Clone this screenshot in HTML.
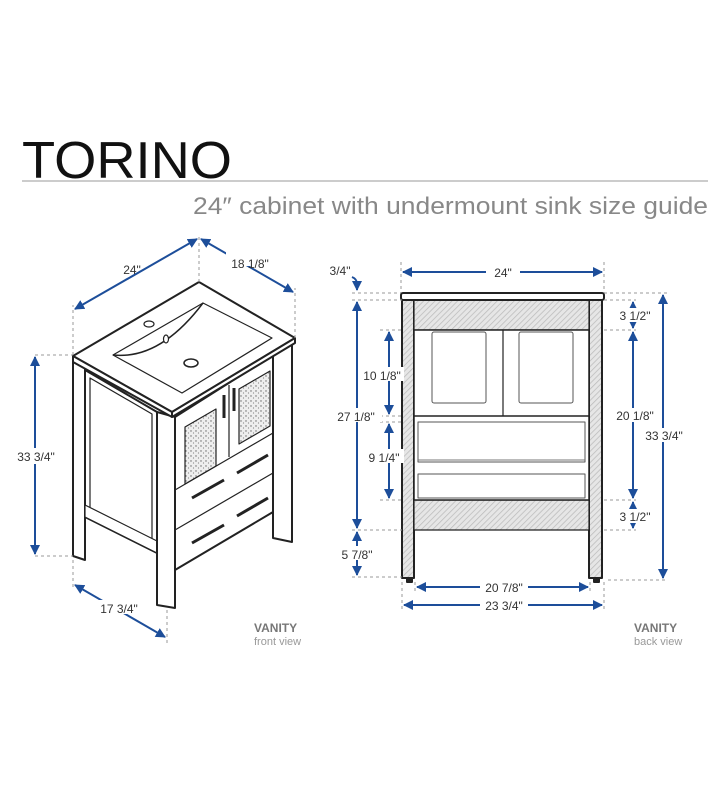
<!DOCTYPE html>
<html><head><meta charset="utf-8"><style>html,body{margin:0;padding:0;background:#fff}svg{display:block}</style></head><body>
<svg width="728" height="789" viewBox="0 0 728 789" xmlns="http://www.w3.org/2000/svg" font-family="Liberation Sans, sans-serif">
<defs>
<marker id="a" viewBox="0 0 10 10" refX="9" refY="5" markerWidth="5" markerHeight="5" orient="auto-start-reverse"><path d="M0,0L10,5L0,10z" fill="#1d4e9a"/></marker>
<pattern id="h" width="4" height="4" patternUnits="userSpaceOnUse" patternTransform="rotate(45)"><rect width="4" height="4" fill="#e6e6e6"/><line x1="0" y1="0" x2="0" y2="4" stroke="#bbb" stroke-width="1.5"/></pattern>
<pattern id="sp" width="5" height="5" patternUnits="userSpaceOnUse"><rect width="5" height="5" fill="#eee"/><circle cx="1" cy="1" r="0.7" fill="#666"/><circle cx="3.5" cy="3" r="0.6" fill="#888"/></pattern>
</defs>
<text x="22" y="178" font-size="52" textLength="210" lengthAdjust="spacingAndGlyphs" fill="#111" font-weight="300">TORINO</text>
<line x1="22" y1="181" x2="708" y2="181" stroke="#ccc" stroke-width="2"/>
<text x="193" y="214" font-size="24" textLength="515" lengthAdjust="spacingAndGlyphs" fill="#888">24″ cabinet with undermount sink size guide</text>

<g stroke="#222" stroke-width="2" fill="#fff" stroke-linejoin="round">
<!-- left iso -->
<polygon points="273,343 292,343 292,542 273,538"/>
<polygon points="73,362 85,362 85,560 73,556"/>
<polygon points="85,370 157,412 157,553 85,517"/>
<polygon points="90,378 152,414 152,540 90,508" fill="#fff" stroke-width="1.2"/>
<polygon points="85,505 157,541 157,553 85,517" stroke-width="1.2"/>
<polygon points="157,412 175,417 175,608 157,605"/>
<polygon points="175,417 273,355 273,512 175,570"/>
<line x1="175" y1="490" x2="273" y2="433" stroke-width="1.2"/>
<line x1="175" y1="530" x2="273" y2="473" stroke-width="1.2"/>
<line x1="229" y1="457" x2="229" y2="385" stroke-width="1.2"/>
<polygon points="185,427 216,409 216,466 185,484" fill="url(#sp)" stroke-width="1.2"/>
<polygon points="239,389 270,371 270,426 239,444" fill="url(#sp)" stroke-width="1.2"/>
<line x1="224" y1="395" x2="224" y2="418" stroke-width="3"/>
<line x1="234" y1="388" x2="234" y2="411" stroke-width="3"/>
<line x1="192" y1="498" x2="224" y2="480" stroke-width="3"/>
<line x1="237" y1="473" x2="268" y2="455" stroke-width="3"/>
<line x1="192" y1="543" x2="224" y2="525" stroke-width="3"/>
<line x1="237" y1="516" x2="268" y2="498" stroke-width="3"/>
<polygon points="73,356 199,282 295,338 172,412"/>
<polygon points="73,356 172,412 172,417 73,362"/>
<polygon points="172,412 295,338 295,343 172,417"/>
<path d="M113,355 L203,303 L272,338 L182,393 Z" stroke-width="1.2" fill="#fff"/>
<path d="M113,355 Q160,360 203,303" stroke-width="1.5" fill="none"/>
<ellipse cx="149" cy="324" rx="5" ry="3" stroke-width="1.2"/>
<ellipse cx="166" cy="339" rx="2.5" ry="4" stroke-width="1.2"/>
<ellipse cx="191" cy="363" rx="7" ry="4" stroke-width="1.5"/>

<!-- right back view -->
<rect x="402" y="300" width="12" height="278" fill="url(#h)"/>
<rect x="589" y="300" width="13" height="278" fill="url(#h)"/>
<rect x="407" y="578" width="5" height="4" fill="#222"/>
<rect x="594" y="578" width="5" height="4" fill="#222"/>
<rect x="414" y="300" width="175" height="30" fill="url(#h)" stroke-width="1.2"/>
<rect x="414" y="500" width="175" height="30" fill="url(#h)" stroke-width="1.2"/>
<rect x="414" y="330" width="175" height="170" stroke-width="1.5"/>
<line x1="503" y1="330" x2="503" y2="416" stroke-width="1.2"/>
<line x1="414" y1="416" x2="589" y2="416" stroke-width="1.5"/>
<rect x="432" y="332" width="54" height="71" rx="2" stroke-width="1" stroke="#555"/>
<rect x="519" y="332" width="54" height="71" rx="2" stroke-width="1" stroke="#555"/>
<rect x="418" y="422" width="167" height="40" stroke-width="1" stroke="#555"/>
<line x1="418" y1="460" x2="585" y2="460" stroke-width="1" stroke="#777"/>
<rect x="418" y="474" width="167" height="24" stroke-width="1" stroke="#555"/>
<rect x="401" y="293" width="203" height="7" rx="2"/>
</g>

<g stroke="#999" stroke-width="1" stroke-dasharray="3,3" fill="none">
<line x1="73" y1="355" x2="73" y2="305"/><line x1="199" y1="282" x2="199" y2="234"/><line x1="295" y1="338" x2="295" y2="288"/>
<line x1="35" y1="355" x2="73" y2="355"/><line x1="35" y1="556" x2="73" y2="556"/>
<line x1="73" y1="560" x2="73" y2="590"/><line x1="167" y1="610" x2="167" y2="645"/>
<line x1="401" y1="262" x2="401" y2="293"/><line x1="604" y1="262" x2="604" y2="293"/>
<line x1="352" y1="293" x2="401" y2="293"/><line x1="352" y1="300" x2="402" y2="300"/>
<line x1="352" y1="530" x2="402" y2="530"/><line x1="352" y1="577" x2="402" y2="577"/>
<line x1="380" y1="330" x2="402" y2="330"/><line x1="380" y1="416" x2="402" y2="416"/>
<line x1="380" y1="422" x2="402" y2="422"/><line x1="380" y1="500" x2="402" y2="500"/>
<line x1="604" y1="293" x2="667" y2="293"/><line x1="604" y1="300" x2="636" y2="300"/>
<line x1="604" y1="330" x2="636" y2="330"/><line x1="604" y1="500" x2="636" y2="500"/>
<line x1="604" y1="530" x2="636" y2="530"/><line x1="608" y1="580" x2="667" y2="580"/>
<line x1="402" y1="582" x2="402" y2="610"/><line x1="604" y1="582" x2="604" y2="610"/>
<line x1="415" y1="582" x2="415" y2="592"/><line x1="590" y1="582" x2="590" y2="592"/>
</g>

<g stroke="#1d4e9a" stroke-width="2" fill="none" marker-start="url(#a)" marker-end="url(#a)">
<line x1="75" y1="309" x2="197" y2="239"/>
<line x1="201" y1="239" x2="293" y2="292"/>
<line x1="35" y1="357" x2="35" y2="554"/>
<line x1="75" y1="585" x2="165" y2="637"/>
<line x1="403" y1="272" x2="602" y2="272"/>
<line x1="357" y1="302" x2="357" y2="528"/>
<line x1="357" y1="532" x2="357" y2="575"/>
<line x1="389" y1="332" x2="389" y2="414"/>
<line x1="389" y1="424" x2="389" y2="498"/>
<line x1="633" y1="302" x2="633" y2="328"/>
<line x1="633" y1="332" x2="633" y2="498"/>
<line x1="633" y1="502" x2="633" y2="528"/>
<line x1="663" y1="295" x2="663" y2="578"/>
<line x1="417" y1="587" x2="588" y2="587"/>
<line x1="404" y1="605" x2="602" y2="605"/>
</g>
<path d="M352,277 Q357,279 357,284 L357,290" stroke="#1d4e9a" stroke-width="2" fill="none" marker-end="url(#a)"/>

<g font-size="12" fill="#333" text-anchor="middle">
<rect x="100" y="258" width="32" height="14" fill="#fff" transform="rotate(-30 116 265)"/>
<text x="132" y="274">24"</text>
<rect x="226" y="252" width="48" height="14" fill="#fff"/>
<text x="250" y="268">18 1/8"</text>
<rect x="10" y="448" width="52" height="16" fill="#fff"/>
<text x="36" y="461">33 3/4"</text>
<rect x="95" y="600" width="48" height="14" fill="#fff"/>
<text x="119" y="613">17 3/4"</text>
<text x="340" y="275">3/4"</text>
<rect x="486" y="264" width="34" height="14" fill="#fff"/>
<text x="503" y="277">24"</text>
<rect x="330" y="408" width="52" height="14" fill="#fff"/>
<text x="356" y="421">27 1/8"</text>
<rect x="335" y="546" width="44" height="14" fill="#fff"/>
<text x="357" y="559">5 7/8"</text>
<rect x="360" y="367" width="44" height="14" fill="#fff"/>
<text x="382" y="380">10 1/8"</text>
<rect x="364" y="449" width="40" height="14" fill="#fff"/>
<text x="384" y="462">9 1/4"</text>
<rect x="617" y="308" width="36" height="14" fill="#fff"/>
<text x="635" y="320">3 1/2"</text>
<rect x="613" y="408" width="44" height="14" fill="#fff"/>
<text x="635" y="420">20 1/8"</text>
<rect x="617" y="509" width="36" height="14" fill="#fff"/>
<text x="635" y="521">3 1/2"</text>
<rect x="640" y="428" width="48" height="14" fill="#fff"/>
<text x="664" y="440">33 3/4"</text>
<rect x="480" y="580" width="48" height="14" fill="#fff"/>
<text x="504" y="592">20 7/8"</text>
<rect x="480" y="598" width="48" height="14" fill="#fff"/>
<text x="504" y="610">23 3/4"</text>
</g>
<g fill="#777">
<text x="254" y="632" font-size="12" font-weight="bold">VANITY</text>
<text x="254" y="645" font-size="11" fill="#999">front view</text>
<text x="634" y="632" font-size="12" font-weight="bold">VANITY</text>
<text x="634" y="645" font-size="11" fill="#999">back view</text>
</g>
</svg>
</body></html>
